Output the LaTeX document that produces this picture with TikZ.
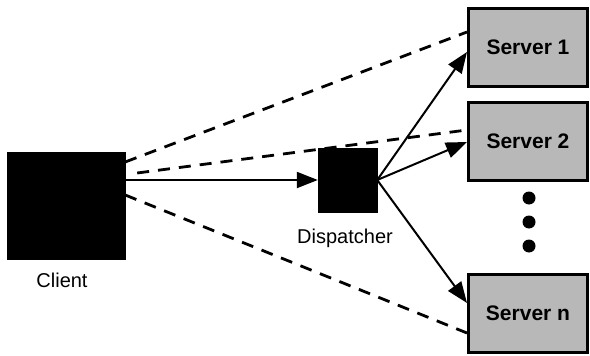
\documentclass[tikz,border=0pt]{standalone}
\usepackage{fontspec}
\setmainfont{Liberation Sans}
\usetikzlibrary{arrows.meta}
\begin{document}
\begin{tikzpicture}[x=1pt,y=-1pt,
  blackbox/.style={draw=black,fill=black,inner sep=0pt},
  serverbox/.style={draw=black,line width=3pt,fill=black!28,inner sep=0pt,
    minimum width=119pt,minimum height=78pt,
    font=\fontsize{21}{23}\selectfont\bfseries},
  lbl/.style={font=\fontsize{20}{22}\selectfont},
  solidarrow/.style={line width=2pt,-{Triangle[length=21pt,width=16pt]}},
  dashline/.style={line width=2.8pt,dash pattern=on 12pt off 9pt},
  dotnode/.style={circle,fill=black,inner sep=0pt,minimum size=13pt}]
\useasboundingbox (0,0) rectangle (590,356);
\node[blackbox,minimum width=118pt,minimum height=107pt] (client) at (66,205.5) {};
\node[blackbox,minimum width=59pt,minimum height=64pt] (disp) at (347.5,180) {};
\node[serverbox] (s1) at (528,47.5) {Server 1};
\node[serverbox] (s2) at (528,141) {Server 2};
\node[serverbox] (sn) at (528,313) {Server n};
\node[lbl] (clientlbl) at (62,280) {Client};
\node[lbl] (displbl) at (345,238) {Dispatcher};
\node[dotnode] (d1) at (529,198) {};
\node[dotnode] (d2) at (529,222) {};
\node[dotnode] (d3) at (529,246) {};
% dashed direct lines
\draw[dashline] ([yshift=43.5pt]client.east) -- ([yshift=15.5pt]s1.west);
\draw[dashline] ([xshift=12pt,yshift=32.5pt]client.east) -- ([yshift=11pt]s2.west);
\draw[dashline] ([yshift=10.5pt]client.east) -- ([yshift=-20pt]sn.west);
% solid arrows
\draw[solidarrow] ([yshift=25.5pt]client.east) -- (disp.west);
\draw[solidarrow] (disp.east) -- ([yshift=-4.5pt]s1.west);
\draw[solidarrow] (disp.east) -- ([yshift=-1pt]s2.west);
\draw[solidarrow] (disp.east) -- ([yshift=10pt]sn.west);
\end{tikzpicture}
\end{document}
